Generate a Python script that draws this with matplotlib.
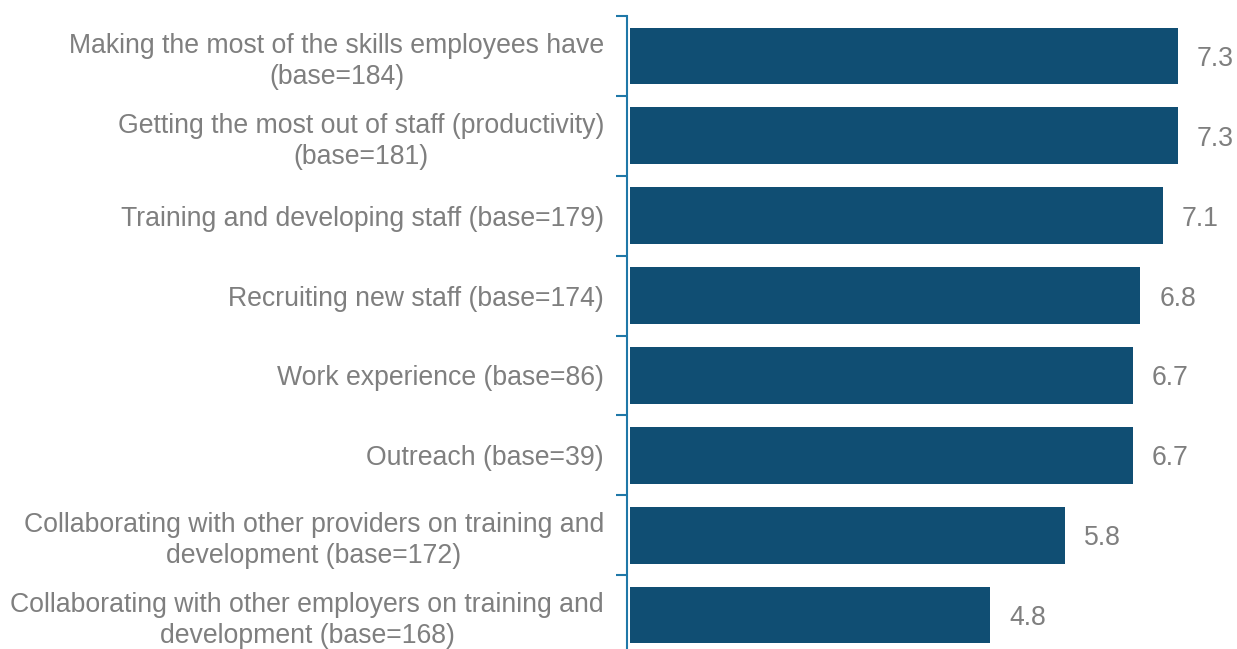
import matplotlib
matplotlib.use("Agg")
import matplotlib.pyplot as plt
from matplotlib.ticker import FixedLocator

categories = [
    "Making the most of the skills employees have\n(base=184)",
    "Getting the most out of staff (productivity)\n(base=181)",
    "Training and developing staff (base=179)",
    "Recruiting new staff (base=174)",
    "Work experience (base=86)",
    "Outreach (base=39)",
    "Collaborating with other providers on training and\ndevelopment (base=172)",
    "Collaborating with other employers on training and\ndevelopment (base=168)",
]
values = [7.3, 7.3, 7.1, 6.8, 6.7, 6.7, 5.8, 4.8]

plt.rcParams['font.family'] = ['Liberation Sans', 'DejaVu Sans']
W, H = 1237, 649
fig = plt.figure(figsize=(W/100, H/100), dpi=100)
ax_left = 627 / W
ax_top = 1 - 16 / H
ax_bottom = -6 / H
ax = fig.add_axes([ax_left, ax_bottom, 1 - ax_left, ax_top - ax_bottom])

bar_color = "#104E73"
axis_color = "#1F78A8"
text_color = "#7F7F7F"
fs = 19.2

n = len(categories)
ypos = list(range(n))
ax.barh(ypos, values, height=0.71, color=bar_color, left=0)
px_per_unit = 548 / 7.3
ax.set_xlim(-3 / px_per_unit, (W - 627 - 3) / px_per_unit)
ax.set_ylim(n - 0.5, -0.5)

for y, v in zip(ypos, values):
    ax.text(v + 19 / px_per_unit, y, f"{v:.1f}", va="center_baseline", ha="left",
            fontsize=fs, color=text_color)

ax.set_yticks(ypos)
ax.set_yticklabels(categories, fontsize=fs, color=text_color, linespacing=1.25,
                   multialignment='center')
ax.tick_params(axis='y', which='major', length=0, pad=16.5)
ax.yaxis.set_minor_locator(FixedLocator([i - 0.5 for i in range(n + 1)]))
ax.tick_params(axis='y', which='minor', length=8, width=1.5, color=axis_color, direction='out')
ax.set_xticks([])
for s in ['top', 'right', 'bottom']:
    ax.spines[s].set_visible(False)
ax.spines['left'].set_color(axis_color)
ax.spines['left'].set_linewidth(1.5)

fig.savefig("out.png", dpi=100)
